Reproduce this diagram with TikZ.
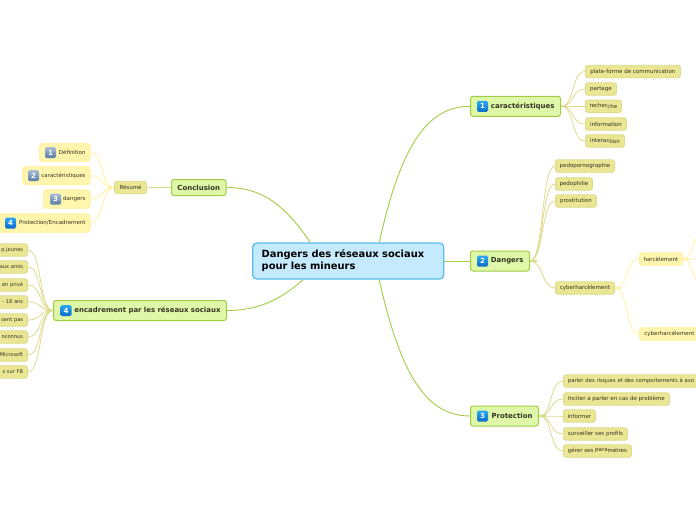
\documentclass[tikz,border=0pt]{standalone}
\usepackage{fontspec}
\setmainfont{DejaVu Sans}
\usetikzlibrary{backgrounds}
\definecolor{txt}{HTML}{333322}
\definecolor{mainfill}{HTML}{DFF7A8}
\definecolor{mainline}{HTML}{A3CC45}
\definecolor{rootfill}{HTML}{C5E9FD}
\definecolor{rootline}{HTML}{5BBDEE}
\definecolor{subfill}{HTML}{EAE693}
\definecolor{subline}{HTML}{DDDB8E}
\definecolor{yelfill}{HTML}{FFF5AD}
\definecolor{yelline}{HTML}{FFF1A0}
\definecolor{iconhi}{HTML}{2CA9F0}
\definecolor{iconlo}{HTML}{0A6CCB}
\definecolor{greyhi}{HTML}{A9BED6}
\definecolor{greylo}{HTML}{5B7CA3}
\newcommand{\up}[1]{\raisebox{0.8pt}{#1}}
\tikzset{
  x=1pt,y=-1pt,
  base/.style={rectangle,rounded corners=2.5pt,text=txt,inner ysep=0pt,inner xsep=0pt},
  rootbox/.style={base,fill=rootfill,draw=rootline,line width=1.3pt,rounded corners=4pt,font=\bfseries\fontsize{9.9}{12}\selectfont,text=black,align=left,text width=173pt,inner xsep=9pt,minimum height=36pt},
  mainbox/.style={base,fill=mainfill,draw=mainline,line width=1pt,font=\bfseries\fontsize{6.95}{8}\selectfont,minimum height=20pt},
  subbox/.style={base,fill=subfill,draw=subline,line width=.9pt,font=\fontsize{5.5}{6}\selectfont,minimum height=12.5pt},
  yelbox/.style={base,fill=yelfill,draw=yelline,line width=.9pt,font=\fontsize{5.5}{6}\selectfont,minimum height=12.5pt},
  sumbox/.style={yelbox,minimum height=18.5pt,rounded corners=3.5pt},
  rtext/.style={minimum width=#1,text width=#1-12pt,inner xsep=6pt,align=right},
  stext/.style={minimum width=#1,text width=#1-9pt,inner xsep=4.5pt,align=right},
  iconblue/.style={rectangle,rounded corners=1.5pt,minimum size=11pt,inner sep=0pt,top color=iconhi,bottom color=iconlo,text=white,font=\bfseries\fontsize{7}{8}\selectfont},
  icongrey/.style={rectangle,rounded corners=1.5pt,minimum size=11pt,inner sep=0pt,top color=greyhi,bottom color=greylo,text=white,font=\bfseries\fontsize{7}{8}\selectfont},
  mainlink/.style={draw=mainline,line width=.9pt},
  sublink/.style={draw=subline,line width=.8pt},
  yellink/.style={draw=yelline,line width=.8pt},
  stub/.style={line width=1.5pt},
}
\begin{document}
\begin{tikzpicture}
\useasboundingbox (0,0) rectangle (696,520);
% root
\node[rootbox] (root) at (348.2,261) {Dangers des réseaux sociaux\\pour les mineurs};
% main nodes
\node[mainbox,anchor=west,rtext=90pt] (car) at (470,106.3) {caractéristiques};
\node[mainbox,anchor=west,rtext=59pt] (dan) at (470,261) {Dangers};
\node[mainbox,anchor=west,rtext=68pt] (pro) at (470,416) {Protection};
\node[mainbox,anchor=east,minimum width=54.5pt,minimum height=16pt] (con) at (226.5,187.5) {Conclusion};
\node[mainbox,anchor=east,rtext=173pt] (enc) at (227,310.5) {encadrement par les réseaux sociaux};
\node[iconblue] (icar) at (482.5,106.3) {1};
\node[iconblue] (idan) at (482.5,261) {2};
\node[iconblue] (ipro) at (482.5,416) {3};
\node[iconblue] (ienc) at (66,310.5) {4};
% caractéristiques children
\node[subbox,anchor=west,minimum width=95pt] (c1) at (585,71.5) {\up{plate-}forme de communication};
\node[subbox,anchor=west,minimum width=31pt] (c2) at (585,89) {partage};
\node[subbox,anchor=west,minimum width=36pt] (c3) at (585,106.3) {\up{recher}che};
\node[subbox,anchor=west,minimum width=41pt] (c4) at (585,124) {information};
\node[subbox,anchor=west,minimum width=39pt] (c5) at (585,141) {\up{interac}tion};
% dangers children
\node[subbox,anchor=west,minimum width=59pt] (d1) at (555,166) {pedopornographie};
\node[subbox,anchor=west,minimum width=37pt] (d2) at (555,184) {pedophilie};
\node[subbox,anchor=west,minimum width=41pt] (d3) at (555,201) {prostitution};
\node[subbox,anchor=west,minimum width=59pt] (d4) at (555,288) {cyberharcèlement};
\node[yelbox,anchor=west,minimum width=43pt] (h1) at (639,259) {harcèlement};
\node[yelbox,anchor=west,minimum width=60pt] (h2) at (639,334) {cyberharcèlement};
\coordinate (ha) at (700,236);
\coordinate (hb) at (700,259);
\coordinate (hc) at (700,282);
% protection children
\node[subbox,anchor=west,text width=140pt,inner xsep=4.5pt,align=left,font=\fontsize{5.3}{6}\selectfont] (p1) at (563,381) {\up{parler des risq}ues et des comportements à avo};
\node[subbox,anchor=west,minimum width=106pt] (p2) at (563,399) {Inciter a parler en cas de problème};
\node[subbox,anchor=west,minimum width=32pt] (p3) at (563,416) {informer};
\node[subbox,anchor=west,minimum width=64pt] (p4) at (563,434) {surveiller ses profils};
\node[subbox,anchor=west,minimum width=68pt] (p5) at (563,451) {gérer ses \up{para}mètres};
% conclusion children
\node[subbox,anchor=east,minimum width=32pt] (res) at (147,187.5) {Résumé};
\node[sumbox,anchor=east,stext=50.5pt] (s1) at (90.5,152.5) {Définition};
\node[sumbox,anchor=east,stext=67.5pt] (s2) at (90.5,175.5) {caractéristiques};
\node[sumbox,anchor=east,stext=46.5pt] (s3) at (90.5,199) {dangers};
\node[sumbox,anchor=east,stext=92pt] (s4) at (90.5,223) {Protection/Encadrement};
\node[icongrey] (is1) at (50.5,152.5) {1};
\node[icongrey] (is2) at (33.5,175.5) {2};
\node[icongrey] (is3) at (55.5,199) {3};
\node[iconblue] (is4) at (10.5,223) {4};
% encadrement children (cut by the left edge)
\foreach \n/\y/\t in {e1/250/p jeunes,e2/267/aux amis,e3/285/en privé,e4/302/- 18 ans,e5/320/sent pas,e6/337/nconnus,e7/355/Microsoft,e8/372/s sur FB}
  \node[subbox,anchor=east,stext=50pt,text height=3.5pt,text depth=1pt,font=\fontsize{5.1}{6}\selectfont] (\n) at (28,\y) {\t};
\begin{pgfonlayer}{background}
% root links
\draw[mainlink] ([xshift=31pt]root.north) .. controls (400,150) and (425,106.3) .. (car.west);
\draw[mainlink] (root.east) -- (dan.west);
\draw[mainlink] ([xshift=31pt]root.south) .. controls (400,372) and (425,416) .. (pro.west);
\draw[mainlink] ([xshift=-38pt]root.north) .. controls (285,205) and (262,187.5) .. (con.east);
\draw[mainlink] ([xshift=-45pt]root.south) .. controls (280,300) and (258,310.5) .. (enc.east);
% fans to the right
\foreach \a/\b in {car/c1,car/c2,car/c3,car/c4,car/c5,dan/d1,dan/d2,dan/d3,dan/d4,pro/p1,pro/p2,pro/p3,pro/p4,pro/p5}
  \draw[sublink] (\a.east) .. controls +(14,0) and ([xshift=-14pt]\b.west) .. (\b.west);
\foreach \a in {car,dan,pro}
  \draw[sublink,stub] (\a.east) -- +(7,0);
\foreach \b in {h1,h2}
  \draw[yellink] (d4.east) .. controls +(14,0) and ([xshift=-14pt]\b.west) .. (\b.west);
\draw[yellink,stub] (d4.east) -- +(6,0);
\foreach \b in {ha,hb,hc}
  \draw[yellink] (h1.east) .. controls +(10,0) and ([xshift=-8pt]\b) .. (\b);
\draw[yellink,stub] (h1.east) -- +(6,0);
% fans to the left
\draw[sublink,line width=1.5pt] (con.west) -- (res.east);
\foreach \b in {s1,s2,s3,s4}
  \draw[yellink] (res.west) .. controls +(-13,0) and ([xshift=13pt]\b.east) .. (\b.east);
\draw[yellink,stub] (res.west) -- +(-6,0);
\foreach \b in {e1,e2,e3,e4,e5,e6,e7,e8}
  \draw[sublink] (enc.west) .. controls +(-14,0) and ([xshift=14pt]\b.east) .. (\b.east);
\draw[sublink,stub] (enc.west) -- +(-7,0);
\end{pgfonlayer}
\end{tikzpicture}
\end{document}
